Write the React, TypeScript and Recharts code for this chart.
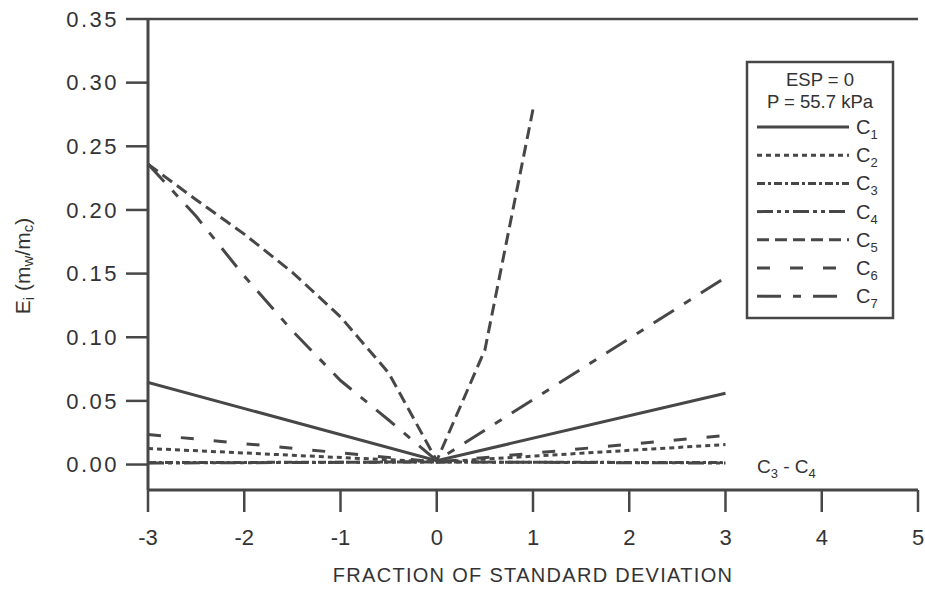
import React from 'react';
import { LineChart, Line, XAxis, YAxis, ReferenceLine, Label } from 'recharts';

const xTicks = [-3, -2, -1, 0, 1, 2, 3, 4, 5];
const yTicks = [0, 0.05, 0.1, 0.15, 0.2, 0.25, 0.3, 0.35];

const c1X = [-3, 0, 3];
const c1Y = [0.0645, 0.003, 0.056];
const c2X = [-3, 0, 3];
const c2Y = [0.0126, 0.002, 0.0157];
const c3X = [-3, 0, 3];
const c3Y = [0.0015, 0.002, 0.0015];
const c4X = [-3, 0, 3];
const c4Y = [0.0012, 0.002, 0.0012];
const c5X = [-3, -2.5, -2, -1.5, -1, -0.5, 0, 0.5, 1];
const c5Y = [0.236, 0.208, 0.181, 0.151, 0.116, 0.072, 0.003, 0.09, 0.279];
const c6X = [-3, 0, 3];
const c6Y = [0.0236, 0.002, 0.0228];
const c7X = [-3, -2.5, -2, -1.5, -1, -0.5, 0, 1, 2, 3];
const c7Y = [0.236, 0.195, 0.148, 0.105, 0.066, 0.035, 0.003, 0.051, 0.099, 0.147];

const seriesNames = ['C1', 'C2', 'C3', 'C4', 'C5', 'C6', 'C7'];

const toData = (xs: number[], ys: number[]) => xs.map((x, i) => ({ x, y: ys[i] }));

const INK = '#474747';
const FONT = '"Liberation Sans", Arial, Helvetica, sans-serif';

const dashes: Record<string, string | undefined> = {
  C1: undefined,
  C2: '5 4',
  C3: '8 3 3 3',
  C4: '16 4 4 4 4 4',
  C5: '12 6',
  C6: '13 20',
  C7: '24 12 8 12',
};

const series = [
  { name: 'C1', data: toData(c1X, c1Y) },
  { name: 'C2', data: toData(c2X, c2Y) },
  { name: 'C3', data: toData(c3X, c3Y) },
  { name: 'C4', data: toData(c4X, c4Y) },
  { name: 'C5', data: toData(c5X, c5Y) },
  { name: 'C6', data: toData(c6X, c6Y) },
  { name: 'C7', data: toData(c7X, c7Y) },
];

const YLabel = (props: any) => {
  const cx = 24;
  const cy = 266;
  return (
    <text
      x={cx}
      y={cy}
      transform={`rotate(-90 ${cx} ${cy})`}
      textAnchor="middle"
      fill="#333"
      fontFamily={FONT}
      fontSize={21}
      dominantBaseline="middle"
    >
      <tspan>E</tspan>
      <tspan fontSize={15} dy={6}>i</tspan>
      <tspan dy={-6}> (m</tspan>
      <tspan fontSize={15} dy={5}>w</tspan>
      <tspan dy={-5}>/m</tspan>
      <tspan fontSize={15} dy={5}>c</tspan>
      <tspan dy={-5}>)</tspan>
    </text>
  );
};

const LegendBox = () => {
  const left = 747;
  const top = 62;
  const w = 146;
  const h = 256;
  const rowY0 = 127;
  const rowStep = 28.2;
  return (
    <svg
      width={w + 4}
      height={h + 4}
      style={{ position: 'absolute', left: left - 2, top: top - 2 }}
    >
      <rect x={2} y={2} width={w} height={h} fill="#fff" stroke={INK} strokeWidth={2.5} />
      <text x={w / 2 + 2} y={26} textAnchor="middle" fontFamily={FONT} fontSize={18.5} fill="#333">
        ESP = 0
      </text>
      <text x={w / 2 + 2} y={48} textAnchor="middle" fontFamily={FONT} fontSize={18.5} fill="#333">
        P = 55.7 kPa
      </text>
      {seriesNames.map((n, i) => {
        const y = rowY0 + i * rowStep - top + 2;
        return (
          <g key={n}>
            <line
              x1={12}
              x2={104}
              y1={y}
              y2={y}
              stroke={INK}
              strokeWidth={3}
              strokeDasharray={dashes[n]}
            />
            <text x={111} y={y + 7} fontFamily={FONT} fontSize={20} fill="#333">
              C<tspan fontSize={13} dy={5}>{n.slice(1)}</tspan>
            </text>
          </g>
        );
      })}
    </svg>
  );
};

export default function App() {
  return (
    <div style={{ position: 'absolute', left: 0, top: 0, width: 925, height: 589, background: '#fff' }}>
      <LineChart width={925} height={589} margin={{ top: 19, right: 7, left: 0, bottom: 0 }}>
        <XAxis
          type="number"
          dataKey="x"
          domain={[-3, 5]}
          ticks={xTicks}
          allowDataOverflow
          height={99}
          tickSize={22}
          tickMargin={17}
          axisLine={{ stroke: INK, strokeWidth: 3 }}
          tickLine={{ stroke: INK, strokeWidth: 2.5 }}
          tick={{ fill: '#333', fontSize: 22, fontFamily: FONT }}
        >
          <Label
            value="FRACTION OF STANDARD DEVIATION"
            position="insideBottom"
            offset={7}
            fill="#333"
            fontSize={20}
            letterSpacing={1.3}
            fontFamily={FONT}
          />
        </XAxis>
        <YAxis
          type="number"
          domain={[-0.02, 0.35]}
          ticks={yTicks}
          allowDataOverflow
          width={148}
          tickSize={22}
          tickMargin={7}
          tickFormatter={(v: number) => v.toFixed(2)}
          axisLine={{ stroke: INK, strokeWidth: 3 }}
          tickLine={{ stroke: INK, strokeWidth: 2.5 }}
          tick={{ fill: '#333', fontSize: 22, fontFamily: FONT, letterSpacing: 2.5 }}
        >
          <Label content={<YLabel />} />
        </YAxis>
        <ReferenceLine y={0.35} stroke={INK} strokeWidth={2.5} />
        {series.map((s) => (
          <Line
            key={s.name}
            data={s.data}
            dataKey="y"
            name={s.name}
            type="linear"
            stroke={INK}
            strokeWidth={3}
            strokeDasharray={dashes[s.name]}
            dot={false}
            activeDot={false}
            isAnimationActive={false}
          />
        ))}
        <ReferenceLine
          x={4}
          stroke="none"
          segment={[{ x: 4, y: 0 }, { x: 4, y: 0 }]}
          label={(p: any) => (
            <text x={757} y={473} fontFamily={FONT} fontSize={19} fill="#333">
              C<tspan fontSize={13} dy={5}>3</tspan>
              <tspan dy={-5}> - C</tspan>
              <tspan fontSize={13} dy={5}>4</tspan>
            </text>
          )}
        />
      </LineChart>
      <LegendBox />
    </div>
  );
}
